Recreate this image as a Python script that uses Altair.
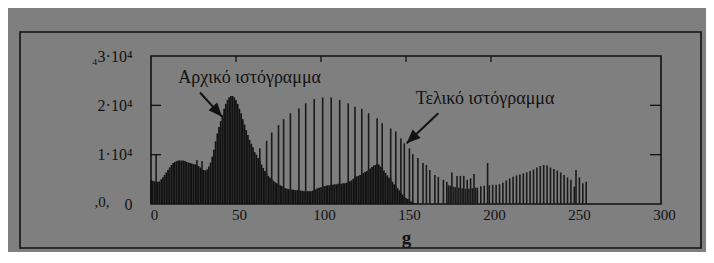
import altair as alt
import pandas as pd

# ---------------- data ----------------
# initial histogram: count for each grey level g = 0, 1, 2, ...
initial_counts = [
    4800, 4700, 4600, 4500, 4500, 4600, 5000, 5400, 5900, 6400,
    6900, 7400, 7900, 8300, 8500, 8700, 8800, 8800, 8800, 8800,
    8700, 8500, 8400, 8300, 8200, 8100, 8000, 7900, 7700, 7400,
    7000, 6900, 6800, 7000, 7600, 8400, 9600, 11000, 12700, 14300,
    15600, 16800, 18000, 19300, 20300, 21100, 21600, 21900, 21900, 21600,
    21100, 20300, 19300, 18400, 17200, 16100, 15000, 14000, 13000, 12200,
    11500, 10500, 10000, 9300, 8700, 8000, 7300, 6700, 6200, 5700,
    5300, 5000, 4700, 4400, 4200, 4000, 3800, 3600, 3400, 3200,
    3100, 3000, 3000, 2900, 2900, 2800, 2800, 2800, 2700, 2700,
    2600, 2600, 2600, 2600, 2600, 2700, 2800, 3000, 3200, 3300,
    3400, 3500, 3600, 3700, 3800, 3800, 3900, 3900, 4000, 4000,
    4100, 4100, 4100, 4200, 4200, 4300, 4400, 4600, 4800, 5100,
    5400, 5600, 5700, 5900, 6100, 6300, 6500, 6700, 6900, 7200,
    7500, 7800, 7900, 8100, 8000, 7600, 7300, 6800, 6300, 5800,
    5300, 4900, 4500, 4000, 3600, 3200, 2800, 2300, 1900, 1500,
    1200, 1000, 700, 500, 300, 200, 100, 50,
]

# final (equalised) histogram: grey levels that are used and their counts
final_g = [
    3, 27, 30,
    64, 68, 71, 75, 78, 82, 87, 91, 96, 101, 106, 111, 116, 120, 124, 128,
    133, 136, 141, 144, 147, 149, 152, 154, 157, 160, 162, 164, 167, 169,
    172, 174, 175, 176, 177, 178, 179, 180, 181, 182, 183, 184, 185, 186,
    187, 188, 189, 190, 191, 192, 194, 196, 198, 199, 201, 203, 205, 207,
    209, 211, 213, 215, 217, 219, 221, 223, 225, 227, 229, 231, 233, 235,
    237, 239, 241, 243, 245, 247, 249, 250, 252, 254, 256,
]
final_counts = [
    10000, 8900, 8700,
    11300, 12800, 14500, 16000, 17200, 18400, 19400, 20400, 21300, 21600,
    21600, 21100, 20400, 19700, 19300, 18400,
    17400, 16400, 15300, 14700, 13300, 12300, 11300, 10100, 9300, 8300,
    7900, 6900, 5900, 5500,
    4900, 4500, 3800, 3700, 6400, 3500, 3400, 5700, 3300, 5700, 3200, 5700,
    3100, 4900,
    3100, 5200, 3200, 6100, 3300, 3300, 3600, 3700, 8300, 3800, 3900, 3900,
    4000, 4300,
    4800, 5200, 5500, 5800, 6000, 6200, 6400, 6700, 7000, 7400, 7700, 7900,
    7800, 7400,
    7100, 6800, 6400, 5900, 5400, 4900, 3500, 6900, 5400, 4200, 4500,
]

x_ticks = [0, 50, 100, 150, 200, 250, 300]
y_ticks = [0, 10000, 20000, 30000]
y_tick_labels = ["0", "1·10⁴", "2·10⁴", "₄3·10⁴"]
top_tick_g = [50, 100, 150, 200]
side_tick_y = [10000, 20000]

ann_text = ["Αρχικό ιστόγραμμα", "Τελικό ιστόγραμμα"]
ann_g = [58, 196.5]
ann_y = [25500, 21300]

arrow_start_g = [28.8, 169.0]
arrow_start_y = [22600, 18400]
arrow_end_g = [41.8, 150.4]
arrow_end_y = [17700, 12300]
arrow_angle = [138, 226]

# ---------------- styling ----------------
BG = "#7f7f7f"
INK = "#121212"
FONT = "Liberation Serif"
W, H = 510, 148

x_scale = alt.Scale(domain=[0, 300], nice=False, zero=False)
y_scale = alt.Scale(domain=[0, 30000], nice=False)

label_expr = " : ".join(
    f"datum.value == {v} ? '{t}'" for v, t in zip(y_ticks, y_tick_labels)
) + " : ''"

init_df = pd.DataFrame({
    "g": list(range(len(initial_counts))),
    "count": initial_counts,
})
init_df["g0"] = init_df["g"] - 0.5
init_df["g1"] = init_df["g"] + 0.5

final_df = pd.DataFrame({"g": final_g, "count": final_counts})

base_x = alt.X("g0:Q", scale=x_scale,
               axis=alt.Axis(values=x_ticks, title="g", domain=False, ticks=False,
                             grid=False, labelFont=FONT, labelFontSize=15,
                             labelColor=INK, labelPadding=3, labelOffset=3,
                             labelFlush=False,
                             titleFont=FONT, titleFontSize=19, titleFontWeight="bold",
                             titleColor=INK, titlePadding=6))
base_y = alt.Y("count:Q", scale=y_scale,
               axis=alt.Axis(values=y_ticks, labelExpr=label_expr, title=None,
                             domain=False, ticks=False, grid=False,
                             labelFont=FONT, labelFontSize=16, labelColor=INK,
                             labelPadding=19))

initial = alt.Chart(init_df).mark_bar(color=INK, stroke=None).encode(
    x=base_x, x2="g1:Q", y=base_y, y2=alt.datum(0)
)

final = alt.Chart(final_df).mark_rule(color="#1a1a1a", strokeWidth=1.6).encode(
    x=alt.X("g:Q", scale=x_scale), y=alt.Y("count:Q", scale=y_scale), y2=alt.datum(0)
)

top_ticks = alt.Chart(pd.DataFrame({"g": top_tick_g})).mark_rule(
    color=INK, strokeWidth=1.3).encode(
    x=alt.X("g:Q", scale=x_scale), y=alt.value(0), y2=alt.value(6)
)
left_ticks = alt.Chart(pd.DataFrame({"v": side_tick_y})).mark_rule(
    color=INK, strokeWidth=1.3).encode(
    y=alt.Y("v:Q", scale=y_scale), x=alt.value(0), x2=alt.value(10)
)
right_ticks = alt.Chart(pd.DataFrame({"v": side_tick_y})).mark_rule(
    color=INK, strokeWidth=1.3).encode(
    y=alt.Y("v:Q", scale=y_scale), x=alt.value(W - 11), x2=alt.value(W)
)

ann_df = pd.DataFrame({"t": ann_text, "g": ann_g, "v": ann_y})
annotations = alt.Chart(ann_df).mark_text(
    font=FONT, fontSize=18, color=INK, align="center", baseline="middle"
).encode(
    x=alt.X("g:Q", scale=x_scale), y=alt.Y("v:Q", scale=y_scale), text="t:N"
)

arrow_df = pd.DataFrame({
    "g0": arrow_start_g, "v0": arrow_start_y,
    "g1": arrow_end_g, "v1": arrow_end_y, "a": arrow_angle,
})
arrow_lines = alt.Chart(arrow_df).mark_rule(color=INK, strokeWidth=2).encode(
    x=alt.X("g0:Q", scale=x_scale), y=alt.Y("v0:Q", scale=y_scale),
    x2="g1:Q", y2="v1:Q"
)
arrow_heads = alt.Chart(arrow_df).mark_point(
    shape="M0,0L-0.42,1L0.42,1Z", filled=True, color=INK, size=760, opacity=1
).encode(
    x=alt.X("g1:Q", scale=x_scale), y=alt.Y("v1:Q", scale=y_scale),
    angle=alt.Angle("a:Q", scale=None)
)

one = pd.DataFrame({"k": [0]})
outer_frame = alt.Chart(one).mark_rect(
    filled=False, stroke=INK, strokeWidth=1.6
).encode(
    x=alt.value(-131), x2=alt.value(550), y=alt.value(-24), y2=alt.value(192)
)
stray = alt.Chart(one).mark_text(
    text=",0,", font=FONT, fontSize=15, color=INK, align="center", baseline="middle"
).encode(x=alt.value(-49), y=alt.value(146))

chart = alt.layer(
    initial, final, top_ticks, left_ticks, right_ticks,
    annotations, arrow_lines, arrow_heads, outer_frame, stray,
).properties(
    width=W, height=H,
    autosize=alt.AutoSizeParams(type="none"),
    padding={"left": 143, "top": 48, "right": 45, "bottom": 48},
    background=BG,
).configure_view(
    stroke=INK, strokeWidth=1.6
)

chart.save("out.html", embed_options={"renderer": "svg", "actions": False})
